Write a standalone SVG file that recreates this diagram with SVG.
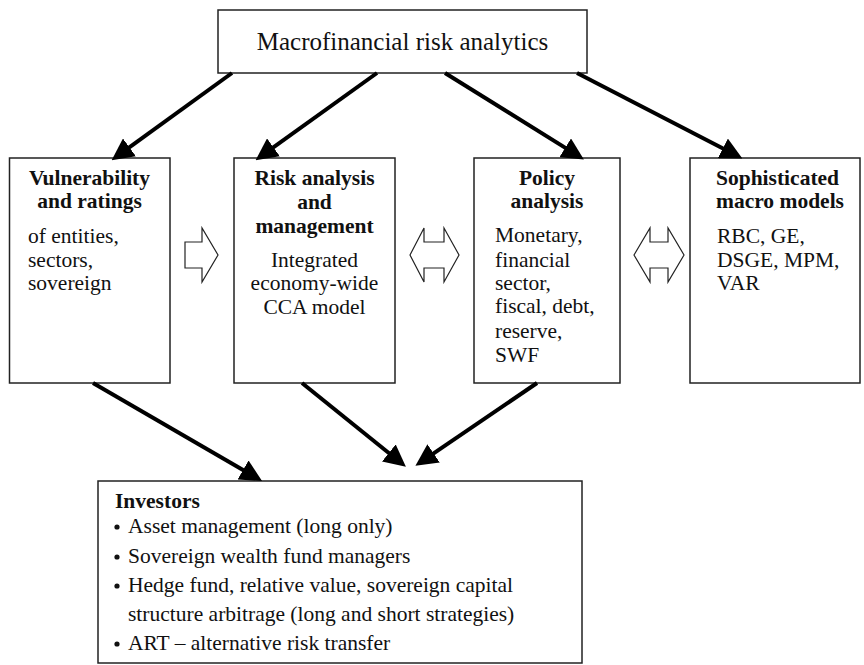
<svg xmlns="http://www.w3.org/2000/svg" width="864" height="665" viewBox="0 0 864 665">
<defs>
<marker id="ah" markerUnits="strokeWidth" markerWidth="5.5" markerHeight="5.5" refX="1" refY="2.75" orient="auto" viewBox="0 0 5.5 5.5">
<path d="M0,0 L5.5,2.75 L0,5.5 z" fill="#000"/>
</marker>
<style>
.box{fill:#fff;stroke:#222;stroke-width:1.5}
.t{font-family:"Liberation Serif","Times New Roman",serif;font-size:21.5px;fill:#111}
.b{font-weight:bold}
.c{text-anchor:middle}
.con{stroke:#000;stroke-width:4;fill:none;marker-end:url(#ah)}
.blk{fill:#fff;stroke:#222;stroke-width:1.2}
</style>
</defs>
<rect width="864" height="665" fill="#fff"/>

<g id="top">
<rect class="box" x="218" y="10" width="369" height="63"/>
<text class="t c" x="402.5" y="50" style="font-size:25px">Macrofinancial risk analytics</text>
</g>

<g id="vulnerability">
<rect class="box" x="9.5" y="158" width="160.5" height="225"/>
<text class="t b c" x="89.5" y="185">Vulnerability</text>
<text class="t b c" x="89.5" y="208">and ratings</text>
<text class="t" x="28" y="243">of entities,</text>
<text class="t" x="28" y="267">sectors,</text>
<text class="t" x="28" y="290">sovereign</text>
</g>

<g id="risk">
<rect class="box" x="234" y="158" width="161" height="225"/>
<text class="t b c" x="314.5" y="185">Risk analysis</text>
<text class="t b c" x="314.5" y="209">and</text>
<text class="t b c" x="314.5" y="233">management</text>
<text class="t c" x="314.5" y="267">Integrated</text>
<text class="t c" x="314.5" y="290">economy-wide</text>
<text class="t c" x="314.5" y="314">CCA model</text>
</g>

<g id="policy">
<rect class="box" x="474" y="158" width="146" height="225"/>
<text class="t b c" x="547" y="185">Policy</text>
<text class="t b c" x="547" y="208">analysis</text>
<text class="t" x="495" y="242">Monetary,</text>
<text class="t" x="495" y="267">financial</text>
<text class="t" x="495" y="290">sector,</text>
<text class="t" x="495" y="313">fiscal, debt,</text>
<text class="t" x="495" y="338">reserve,</text>
<text class="t" x="495" y="362">SWF</text>
</g>

<g id="macro">
<rect class="box" x="690" y="158" width="170" height="225"/>
<text class="t b" x="716" y="185">Sophisticated</text>
<text class="t b" x="716" y="208">macro models</text>
<text class="t" x="717" y="243">RBC, GE,</text>
<text class="t" x="717" y="267">DSGE, MPM,</text>
<text class="t" x="717" y="290">VAR</text>
</g>

<g id="investors">
<rect class="box" x="98" y="481" width="484" height="182"/>
<text class="t b" x="115" y="508">Investors</text>
<circle cx="117" cy="527" r="2.6" fill="#111"/>
<text class="t" x="128" y="533">Asset management (long only)</text>
<circle cx="117" cy="557" r="2.6" fill="#111"/>
<text class="t" x="128" y="563">Sovereign wealth fund managers</text>
<circle cx="117" cy="586" r="2.6" fill="#111"/>
<text class="t" x="128" y="592">Hedge fund, relative value, sovereign capital</text>
<text class="t" x="128" y="621">structure arbitrage (long and short strategies)</text>
<circle cx="117" cy="644" r="2.6" fill="#111"/>
<text class="t" x="128" y="650">ART – alternative risk transfer</text>
</g>

<g id="connectors">
<line class="con" x1="232" y1="73" x2="126.2" y2="149.7"/>
<line class="con" x1="377" y1="73" x2="270.2" y2="149.7"/>
<line class="con" x1="445" y1="73" x2="568.6" y2="149.9"/>
<line class="con" x1="577" y1="73" x2="726.4" y2="150.2"/>
<line class="con" x1="93" y1="383" x2="246.5" y2="472"/>
<line class="con" x1="302" y1="383" x2="391.9" y2="455.5"/>
<line class="con" x1="537" y1="383" x2="430.3" y2="455.7"/>
<path class="blk" d="M185,242 L202,242 L202,228 L218,255 L202,282 L202,268 L185,268 Z"/>
<path class="blk" d="M410,255 L424,228 L424,242 L444,242 L444,228 L459,255 L444,282 L444,268 L424,268 L424,282 Z"/>
<path class="blk" d="M634,255 L650,228 L650,242 L668,242 L668,228 L684,255 L668,282 L668,268 L650,268 L650,282 Z"/>
</g>
</svg>
